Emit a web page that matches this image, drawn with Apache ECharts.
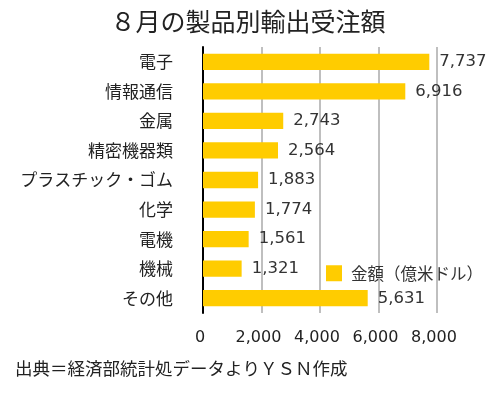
<!DOCTYPE html>
<html><head><meta charset="utf-8">
<script src="https://cdn.jsdelivr.net/npm/echarts@6/dist/echarts.min.js"></script>
<style>html,body{margin:0;padding:0;background:#fff}#c{width:496px;height:393px}</style>
</head><body><div id="c"></div>
<script>
var categories = ['電子','情報通信','金属','精密機器類','プラスチック・ゴム','化学','電機','機械','その他'];
var values = [7737, 6916, 2743, 2564, 1883, 1774, 1561, 1321, 5631];
var seriesName = '金額（億米ドル）';
var titleText = '８月の製品別輸出受注額';
var sourceText = '出典＝経済部統計処データよりＹＳＮ作成';
var FONT = '"Noto Sans CJK JP", "Noto Sans", sans-serif';
var NUMFONT = '"DejaVu Sans", "Noto Sans CJK JP", sans-serif';
var chart = echarts.init(document.getElementById('c'));
chart.setOption({
  animation: false,
  textStyle: {fontFamily: FONT},
  title: [{
    text: titleText, left: 'center', top: 4,
    textStyle: {fontSize: 25, fontWeight: 'normal', color: '#222', fontFamily: FONT}
  }, {
    text: sourceText, left: 10, top: 355,
    textStyle: {fontSize: 17.5, fontWeight: 'normal', color: '#222', fontFamily: FONT}
  }],
  legend: {
    data: [seriesName], left: 321, top: 260, icon: 'rect', itemWidth: 16, itemHeight: 16, itemGap: 10,
    textStyle: {fontSize: 16.5, color: '#333', fontFamily: FONT, padding: [0,0,0,4]}
  },
  grid: {left: 203, right: 59, top: 47, bottom: 80, containLabel: false},
  xAxis: {
    type: 'value', min: 0, max: 8000, interval: 2000,
    axisLine: {show: false}, axisTick: {show: false},
    splitLine: {show: true, lineStyle: {color: '#aaa', width: 1.5}},
    axisLabel: {fontSize: 16, color: '#222', margin: 17, fontFamily: NUMFONT, padding: [0, 6, 0, 0],
      formatter: function(v){ return v.toLocaleString('en-US'); }}
  },
  yAxis: {
    type: 'category', data: categories, inverse: true,
    axisLine: {show: true, lineStyle: {color: '#000', width: 2}},
    axisTick: {show: false},
    axisLabel: {fontSize: 17, color: '#222', margin: 30, fontFamily: FONT}
  },
  series: [{
    name: seriesName, type: 'bar', data: values, barCategoryGap: '45%',
    itemStyle: {color: '#FFCC00'},
    label: {show: true, position: 'right', distance: 10, fontSize: 16.5, color: '#333', fontFamily: NUMFONT,
      formatter: function(p){ return p.value.toLocaleString('en-US'); }}
  }]
});
</script></body></html>
